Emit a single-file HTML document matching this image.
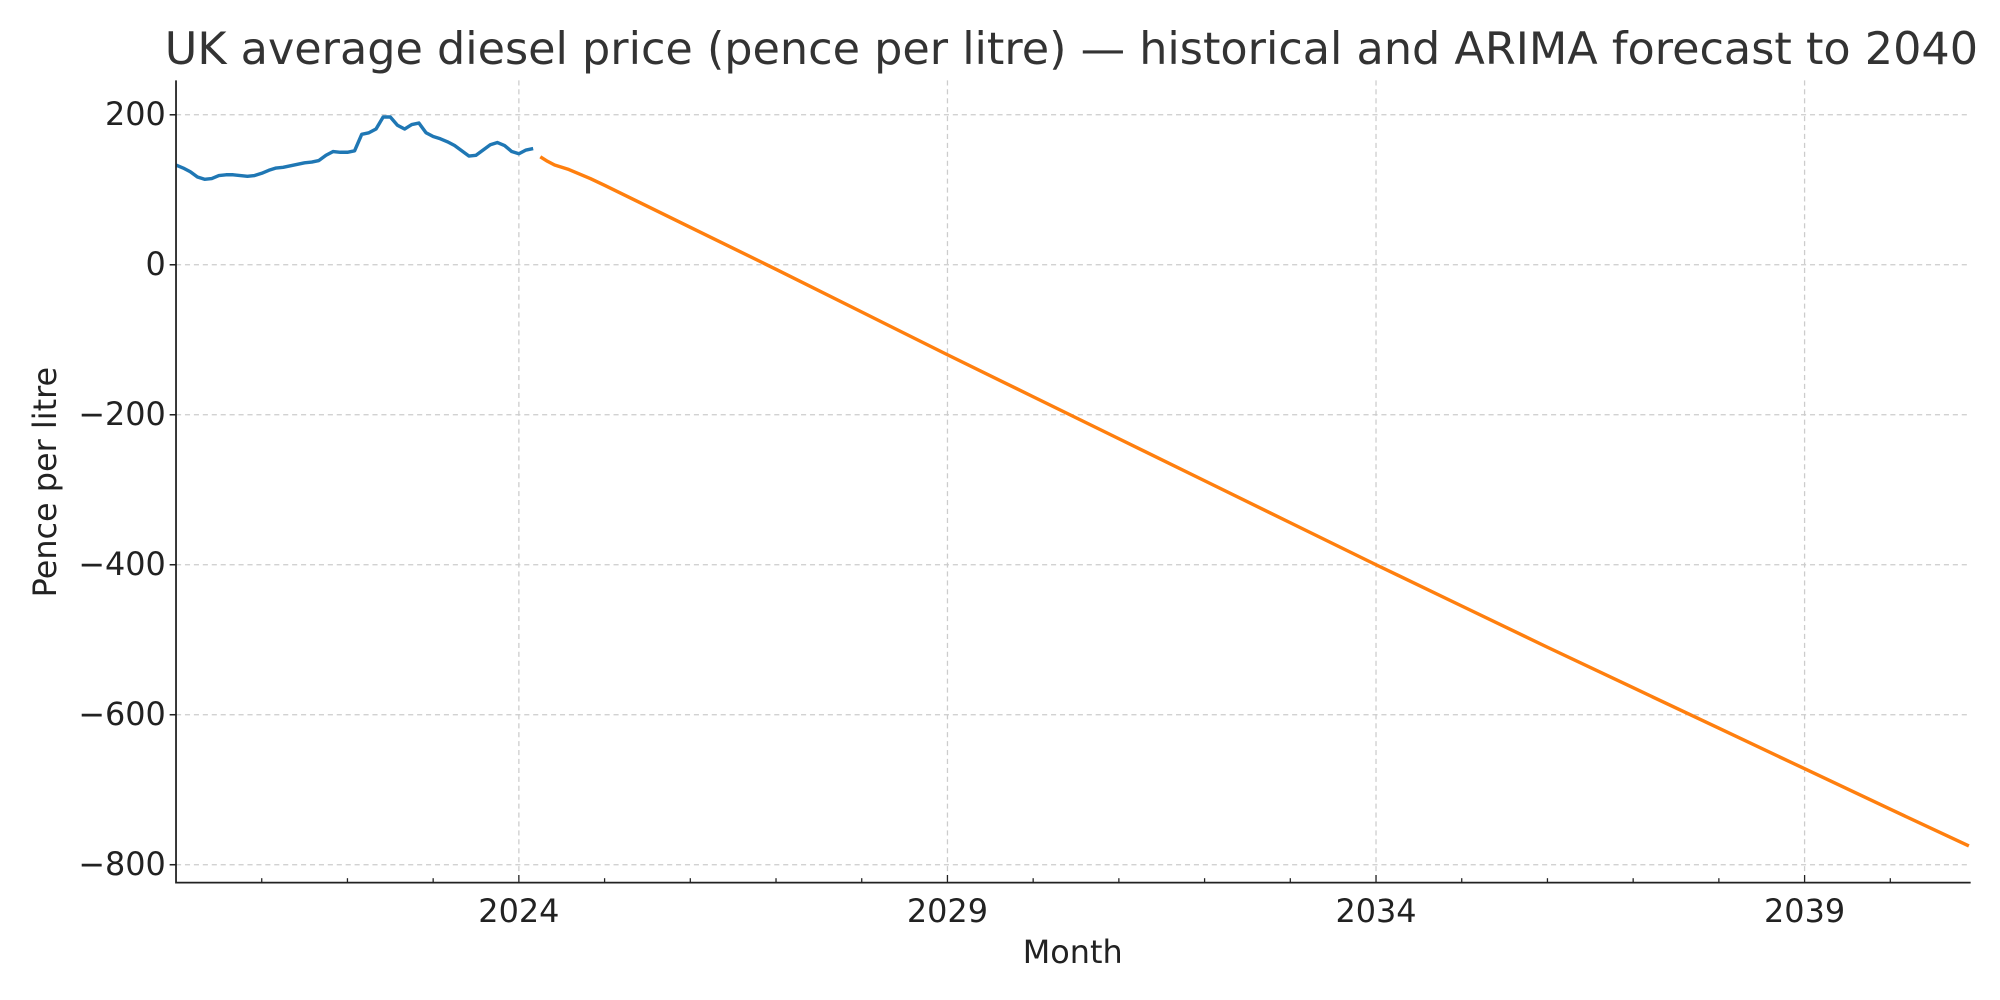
<!DOCTYPE html>
<html><head><meta charset="utf-8"><style>
html,body{margin:0;padding:0;background:#fff;}
svg{display:block;font-family:"DejaVu Sans","Liberation Sans",sans-serif;}
</style></head><body>
<svg id="chart" width="2000" height="1000" viewBox="0 0 1568 784" xmlns="http://www.w3.org/2000/svg">
<rect width="1568" height="784" fill="#fff"/>
<text x="840" y="50" text-anchor="middle" font-size="34.9" fill="#333">UK average diesel price (pence per litre) — historical and ARIMA forecast to 2040</text>
<g id="grid"></g>
<g id="series"></g>
<g id="axes"></g>
<text x="841" y="755" text-anchor="middle" font-size="25" fill="#222">Month</text>
<text transform="translate(44,378) rotate(-90)" text-anchor="middle" font-size="25" fill="#222">Pence per litre</text>
</svg>
<script>
// months counted from Jan 2020 (index 0)
const histMonths = [0,1,2,3,4,5,6,7,8,9,10,11,12,13,14,15,16,17,18,19,20,21,22,23,24,25,26,27,28,29,30,31,32,33,34,35,36,37,38,39,40,41,42,43,44,45,46,47,48,49,50];
const histValues = [133,129,124,117,114,115,119,120,120,119,118,119,122,126,129,130,132,134,136,137,139,146,151,150,150,152,174,176,181,197,197,186,181,187,189,176,171,168,164,159,152,145,146,153,160,163,159,151,148,153,155];
const fcMonths = [51,52,53,54,55,56,57,58,60,72,84,96,108,120,132,144,156,168,180,192,204,216,228,240,251];
const fcValues = [144,138,133,130,127,123,119,115,106,50,-6,-63,-120,-176,-232,-288,-344,-400,-455,-510,-564,-618,-672,-726,-775];
const yTicks = [200,0,-200,-400,-600,-800];
const yTickLabels = ["200","0","\u2212200","\u2212400","\u2212600","\u2212800"];
const xTickYears = [2024,2029,2034,2039];
const xTickLabels = ["2024","2029","2034","2039"];

const L=138,R=1545,T=63,B=692;
const xMin=0, xMax=(1545-138)/5.6; // months
const yMin=-823.9, yMax=245.9;
const xs=m=>L+(m-xMin)/(xMax-xMin)*(R-L);
const ys=v=>B-(v-yMin)/(yMax-yMin)*(B-T);
const NS="http://www.w3.org/2000/svg";
function mk(tag,attrs,parent){const e=document.createElementNS(NS,tag);for(const k in attrs)e.setAttribute(k,attrs[k]);parent.appendChild(e);return e;}
const grid=document.getElementById('grid'),axes=document.getElementById('axes'),series=document.getElementById('series');

yTicks.forEach((v,i)=>{
  const y=ys(v);
  const g=mk('line',{x1:L,x2:R,y1:y,y2:y,stroke:'#cccccc','stroke-width':1,'stroke-dasharray':'4,3'},grid);
  
  
  const t=mk('line',{x1:L-5,x2:L,y1:y,y2:y,stroke:'#222','stroke-width':1.2},axes);
  
  
  const lab=mk('text',{x:L-8,y:y+8,'text-anchor':'end','font-size':25,fill:'#222'},axes);
  lab.textContent=yTickLabels[i];
  
  
});
for(let yr=2021;yr<=2040;yr++){
  const x=xs((yr-2020)*12);
  const major=xTickYears.indexOf(yr);
  if(major>=0){
    const g=mk('line',{x1:x,x2:x,y1:T,y2:B,stroke:'#cccccc','stroke-width':1,'stroke-dasharray':'4,3'},grid);
    
    
    const lab=mk('text',{x:x,y:B+31,'text-anchor':'middle','font-size':25,fill:'#222'},axes);
    lab.textContent=xTickLabels[major];
    
    
  }
  const t=mk('line',{x1:x,x2:x,y1:B,y2:B-(major>=0?6:3.5),stroke:'#222','stroke-width':1},axes);
  
  
}
const ax=mk('path',{d:`M${L},${T} V${B} H${R}`,fill:'none',stroke:'#222','stroke-width':1.4},axes);



const hp=mk('polyline',{points:histMonths.map((m,i)=>xs(m)+','+ys(histValues[i])).join(' '),fill:'none',stroke:'#1f77b4','stroke-width':2.7,'stroke-linejoin':'round'},series);


const fp=mk('polyline',{points:fcMonths.map((m,i)=>xs(m)+','+ys(fcValues[i])).join(' '),fill:'none',stroke:'#ff7f0e','stroke-width':2.7,'stroke-linejoin':'round'},series);


</script>
</body></html>
